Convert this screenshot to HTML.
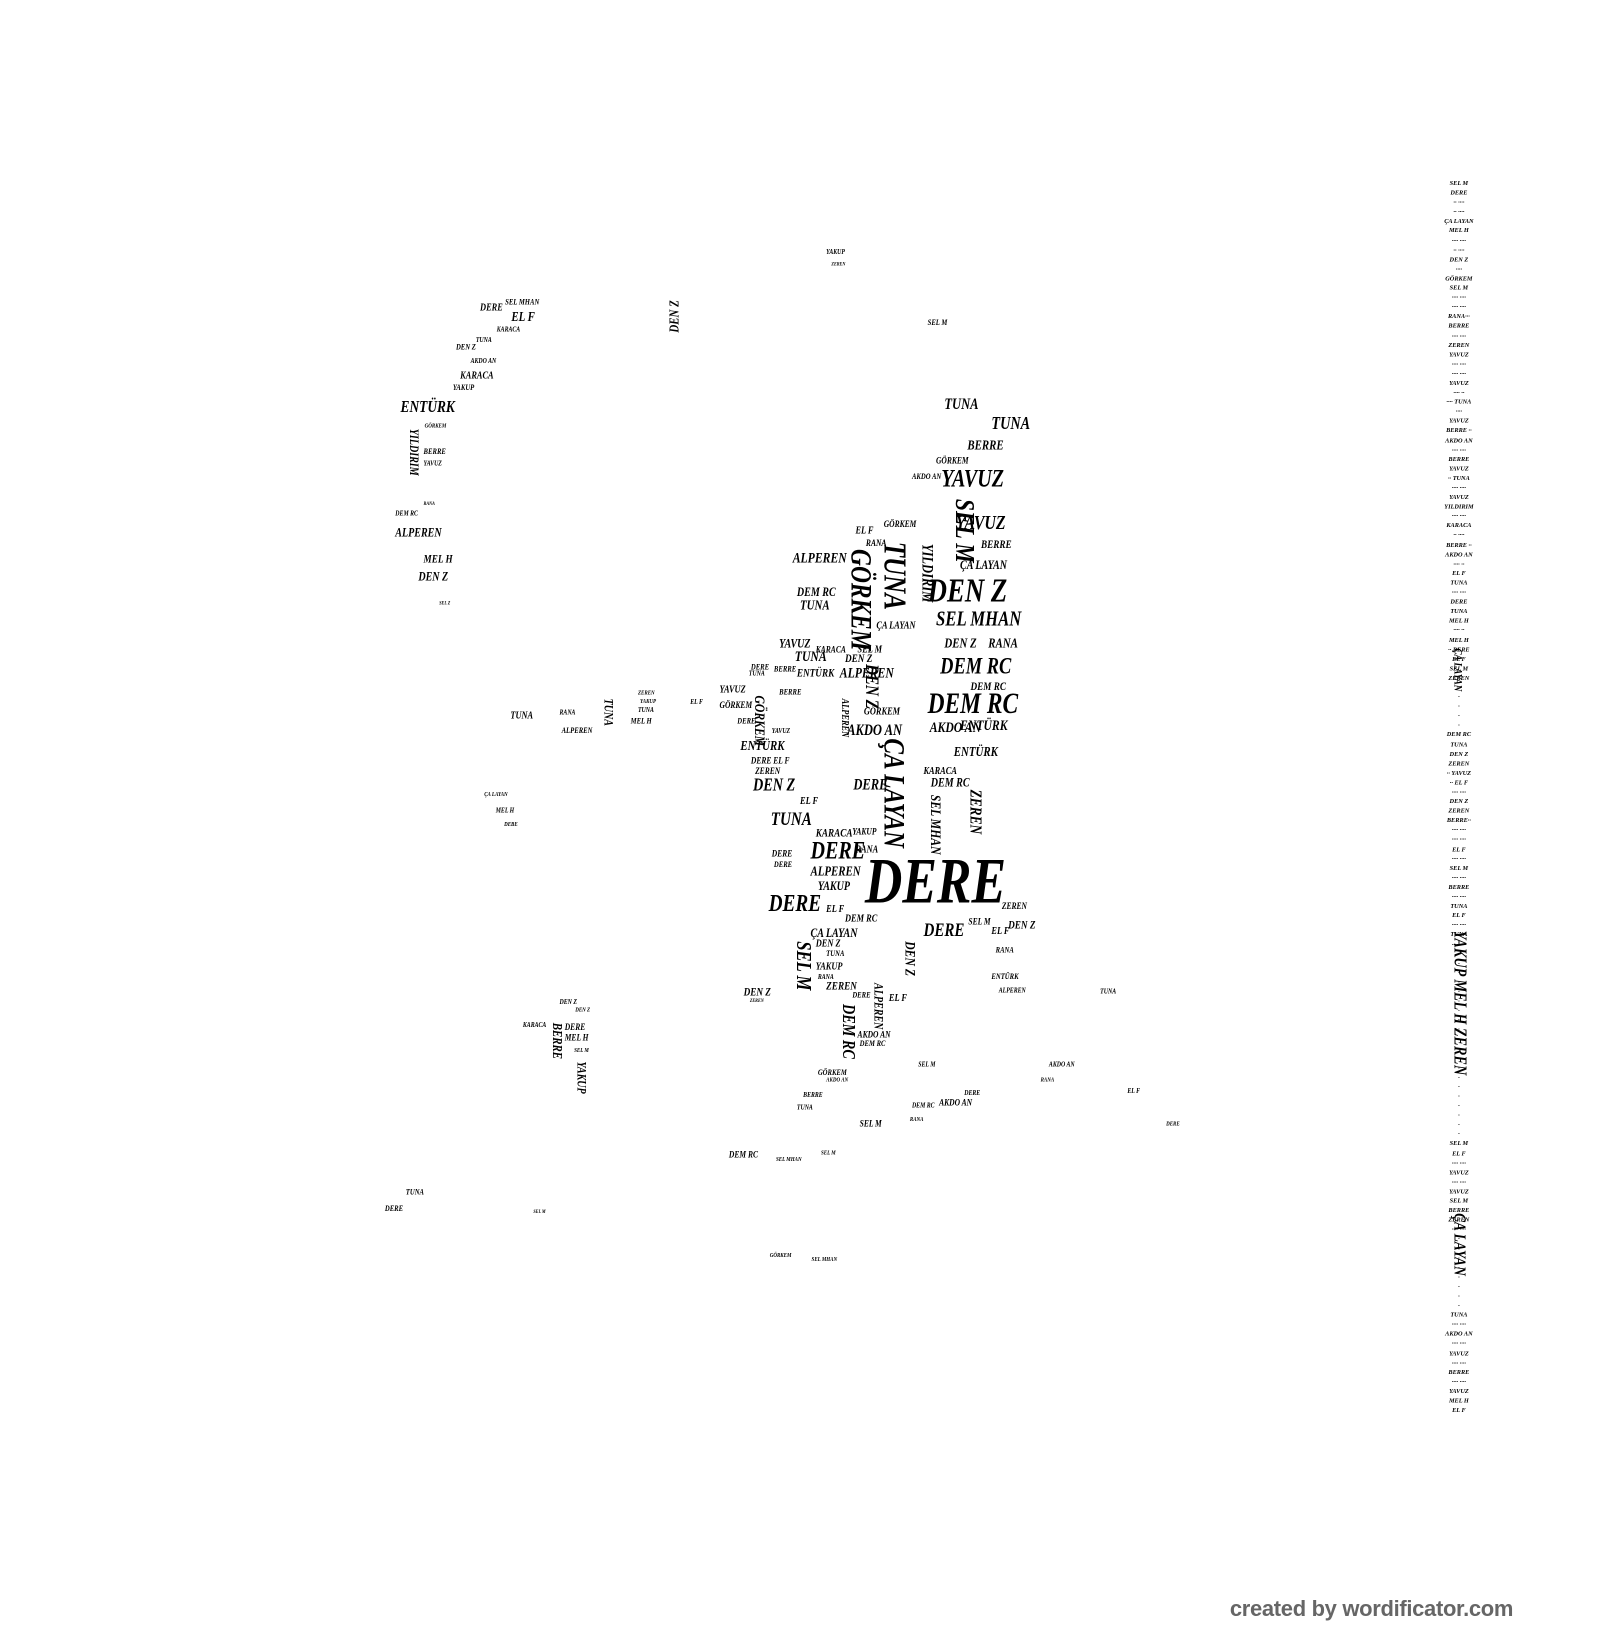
<!DOCTYPE html>
<html><head><meta charset="utf-8"><style>
html,body{margin:0;padding:0;background:#fff;width:1600px;height:1640px;overflow:hidden}
#s{position:absolute;left:0;top:0;width:1530px;height:1568px;transform:scale(1.0458);transform-origin:0 0}
#s span{position:absolute;white-space:nowrap;font-family:"Liberation Serif",serif;font-weight:bold;font-style:italic;line-height:1;color:#000;transform-origin:0 0;transform:scaleX(.8)}
#s span.v{transform:rotate(90deg) scaleX(.8)}
#s span.u{transform:rotate(-90deg) scaleX(.8)}
#col{position:absolute;left:1378px;top:172px;width:34px;font-family:"Liberation Serif",serif;font-weight:bold;font-style:italic;font-size:6px;line-height:9.1px;text-align:center;color:#000}
#wm{position:absolute;left:1176px;top:1527px;font-family:"Liberation Sans",sans-serif;font-weight:bold;font-size:21px;color:#666;letter-spacing:-.3px;transform-origin:0 0}
</style></head><body><div id="s">
<span style="left:827px;top:812px;font-size:62px">DERE</span>
<span style="left:887px;top:548px;font-size:32px">DEN Z</span>
<span style="left:887px;top:660px;font-size:28px">DEM RC</span>
<span style="left:899px;top:626px;font-size:22px">DEM RC</span>
<span style="left:895px;top:582px;font-size:20px">SEL MHAN</span>
<span style="left:900px;top:446px;font-size:24px">YAVUZ</span>
<span style="left:914px;top:491px;font-size:19px">YAVUZ</span>
<span style="left:903px;top:380px;font-size:15px">TUNA</span>
<span style="left:948px;top:396px;font-size:17px">TUNA</span>
<span style="left:925px;top:419px;font-size:13px">BERRE</span>
<span style="left:938px;top:516px;font-size:11px">BERRE</span>
<span style="left:918px;top:534px;font-size:12px">ÇA LAYAN</span>
<span style="left:895px;top:436px;font-size:9px">GÖRKEM</span>
<span style="left:872px;top:452px;font-size:8px">AKDO AN</span>
<span style="left:903px;top:608px;font-size:13px">DEN Z</span>
<span style="left:945px;top:608px;font-size:13px">RANA</span>
<span style="left:928px;top:652px;font-size:11px">DEM RC</span>
<span style="left:889px;top:690px;font-size:14px">AKDO AN</span>
<span style="left:918px;top:688px;font-size:14px">ENTÜRK</span>
<span style="left:912px;top:712px;font-size:13px">ENTÜRK</span>
<span style="left:890px;top:742px;font-size:12px">DEM RC</span>
<span style="left:883px;top:733px;font-size:10px">KARACA</span>
<span style="left:810px;top:692px;font-size:15px">AKDO AN</span>
<span style="left:826px;top:676px;font-size:10px">GÖRKEM</span>
<span style="left:808px;top:625px;font-size:11px">DEN Z</span>
<span style="left:803px;top:638px;font-size:14px">ALPEREN</span>
<span style="left:820px;top:617px;font-size:10px">SEL M</span>
<span style="left:760px;top:622px;font-size:14px">TUNA</span>
<span style="left:762px;top:639px;font-size:11px">ENTÜRK</span>
<span style="left:745px;top:609px;font-size:12px">YAVUZ</span>
<span style="left:780px;top:617px;font-size:9px">KARACA</span>
<span style="left:758px;top:528px;font-size:14px">ALPEREN</span>
<span style="left:762px;top:560px;font-size:12px">DEM RC</span>
<span style="left:765px;top:572px;font-size:13px">TUNA</span>
<span style="left:818px;top:503px;font-size:10px">EL F</span>
<span style="left:828px;top:515px;font-size:9px">RANA</span>
<span style="left:845px;top:497px;font-size:9px">GÖRKEM</span>
<span style="left:838px;top:594px;font-size:10px">ÇA LAYAN</span>
<span class="v" style="left:870px;top:518px;font-size:30px">TUNA</span>
<span class="v" style="left:836px;top:525px;font-size:28px">GÖRKEM</span>
<span class="v" style="left:893px;top:520px;font-size:15px">YILDIRIM</span>
<span class="v" style="left:935px;top:477px;font-size:26px">SEL M</span>
<span class="v" style="left:868px;top:706px;font-size:28px">ÇA LAYAN</span>
<span class="v" style="left:900px;top:760px;font-size:14px">SEL MHAN</span>
<span class="v" style="left:940px;top:755px;font-size:16px">ZEREN</span>
<span class="v" style="left:843px;top:635px;font-size:18px">DEN Z</span>
<span class="v" style="left:732px;top:665px;font-size:14px">GÖRKEM</span>
<span class="v" style="left:812px;top:668px;font-size:10px">ALPEREN</span>
<span style="left:708px;top:706px;font-size:13px">ENTÜRK</span>
<span style="left:718px;top:723px;font-size:9px">DERE EL F</span>
<span style="left:722px;top:733px;font-size:9px">ZEREN</span>
<span style="left:720px;top:742px;font-size:17px">DEN Z</span>
<span style="left:765px;top:762px;font-size:10px">EL F</span>
<span style="left:737px;top:774px;font-size:18px">TUNA</span>
<span style="left:780px;top:792px;font-size:11px">KARACA</span>
<span style="left:815px;top:791px;font-size:9px">YAKUP</span>
<span style="left:775px;top:802px;font-size:24px">DERE</span>
<span style="left:818px;top:808px;font-size:10px">RANA</span>
<span style="left:816px;top:744px;font-size:15px">DERE</span>
<span style="left:738px;top:812px;font-size:9px">DERE</span>
<span style="left:740px;top:823px;font-size:8px">DERE</span>
<span style="left:775px;top:826px;font-size:13px">ALPEREN</span>
<span style="left:782px;top:841px;font-size:12px">YAKUP</span>
<span style="left:735px;top:852px;font-size:23px">DERE</span>
<span style="left:790px;top:865px;font-size:10px">EL F</span>
<span style="left:808px;top:874px;font-size:10px">DEM RC</span>
<span style="left:775px;top:886px;font-size:12px">ÇA LAYAN</span>
<span style="left:780px;top:898px;font-size:10px">DEN Z</span>
<span style="left:790px;top:908px;font-size:8px">TUNA</span>
<span style="left:780px;top:920px;font-size:10px">YAKUP</span>
<span style="left:782px;top:931px;font-size:7px">RANA</span>
<span style="left:790px;top:938px;font-size:11px">ZEREN</span>
<span style="left:883px;top:880px;font-size:18px">DERE</span>
<span style="left:926px;top:877px;font-size:9px">SEL M</span>
<span style="left:964px;top:880px;font-size:11px">DEN Z</span>
<span style="left:958px;top:862px;font-size:9px">ZEREN</span>
<span style="left:948px;top:886px;font-size:10px">EL F</span>
<span style="left:952px;top:905px;font-size:8px">RANA</span>
<span style="left:948px;top:930px;font-size:8px">ENTÜRK</span>
<span style="left:955px;top:944px;font-size:7px">ALPEREN</span>
<span class="v" style="left:778px;top:900px;font-size:20px">SEL M</span>
<span class="v" style="left:876px;top:900px;font-size:14px">DEN Z</span>
<span class="v" style="left:846px;top:940px;font-size:12px">ALPEREN</span>
<span class="v" style="left:820px;top:960px;font-size:17px">DEM RC</span>
<span style="left:850px;top:950px;font-size:10px">EL F</span>
<span style="left:820px;top:985px;font-size:9px">AKDO AN</span>
<span style="left:822px;top:994px;font-size:8px">DEM RC</span>
<span style="left:815px;top:948px;font-size:8px">DERE</span>
<span style="left:782px;top:1022px;font-size:8px">GÖRKEM</span>
<span style="left:790px;top:1030px;font-size:6px">AKDO AN</span>
<span style="left:768px;top:1044px;font-size:7px">BERRE</span>
<span style="left:762px;top:1056px;font-size:7px">TUNA</span>
<span style="left:711px;top:944px;font-size:11px">DEN Z</span>
<span style="left:717px;top:955px;font-size:5px">ZEREN</span>
<span style="left:688px;top:655px;font-size:10px">YAVUZ</span>
<span style="left:688px;top:670px;font-size:9px">GÖRKEM</span>
<span style="left:718px;top:634px;font-size:8px">DERE</span>
<span style="left:716px;top:641px;font-size:7px">TUNA</span>
<span style="left:740px;top:636px;font-size:8px">BERRE</span>
<span style="left:745px;top:658px;font-size:8px">BERRE</span>
<span style="left:705px;top:686px;font-size:8px">DERE</span>
<span style="left:738px;top:696px;font-size:7px">YAVUZ</span>
<span style="left:459px;top:290px;font-size:10px">DERE</span>
<span style="left:483px;top:285px;font-size:8px">SEL MHAN</span>
<span style="left:489px;top:296px;font-size:13px">EL F</span>
<span style="left:475px;top:312px;font-size:7px">KARACA</span>
<span style="left:436px;top:328px;font-size:8px">DEN Z</span>
<span style="left:455px;top:322px;font-size:7px">TUNA</span>
<span style="left:450px;top:342px;font-size:7px">AKDO AN</span>
<span style="left:440px;top:355px;font-size:10px">KARACA</span>
<span style="left:433px;top:367px;font-size:8px">YAKUP</span>
<span style="left:383px;top:382px;font-size:16px">ENTÜRK</span>
<span style="left:406px;top:405px;font-size:6px">GÖRKEM</span>
<span style="left:405px;top:428px;font-size:8px">BERRE</span>
<span style="left:405px;top:440px;font-size:7px">YAVUZ</span>
<span class="v" style="left:402px;top:410px;font-size:12px">YILDIRIM</span>
<span style="left:378px;top:488px;font-size:7px">DEM RC</span>
<span style="left:405px;top:480px;font-size:5px">RANA</span>
<span style="left:378px;top:503px;font-size:12px">ALPEREN</span>
<span style="left:405px;top:530px;font-size:11px">MEL H</span>
<span style="left:400px;top:545px;font-size:12px">DEN Z</span>
<span style="left:420px;top:575px;font-size:5px">SEL Z</span>
<span class="u" style="left:638px;top:318px;font-size:13px">DEN Z</span>
<span style="left:790px;top:238px;font-size:7px">YAKUP</span>
<span style="left:795px;top:251px;font-size:5px">ZEREN</span>
<span style="left:887px;top:305px;font-size:8px">SEL M</span>
<span style="left:488px;top:680px;font-size:10px">TUNA</span>
<span style="left:535px;top:678px;font-size:7px">RANA</span>
<span style="left:537px;top:695px;font-size:8px">ALPEREN</span>
<span style="left:603px;top:686px;font-size:8px">MEL H</span>
<span style="left:610px;top:676px;font-size:7px">TUNA</span>
<span style="left:612px;top:668px;font-size:6px">YAKUP</span>
<span style="left:610px;top:660px;font-size:6px">ZEREN</span>
<span style="left:660px;top:668px;font-size:7px">EL F</span>
<span class="v" style="left:588px;top:668px;font-size:12px">TUNA</span>
<span style="left:463px;top:757px;font-size:6px">ÇA LAYAN</span>
<span style="left:474px;top:772px;font-size:7px">MEL H</span>
<span style="left:482px;top:786px;font-size:6px">DEBE</span>
<span style="left:535px;top:955px;font-size:7px">DEN Z</span>
<span style="left:550px;top:963px;font-size:6px">DEN Z</span>
<span style="left:500px;top:977px;font-size:7px">KARACA</span>
<span style="left:540px;top:978px;font-size:9px">DERE</span>
<span style="left:540px;top:988px;font-size:9px">MEL H</span>
<span class="v" style="left:540px;top:978px;font-size:13px">BERRE</span>
<span class="v" style="left:562px;top:1015px;font-size:12px">YAKUP</span>
<span style="left:549px;top:1002px;font-size:6px">SEL M</span>
<span style="left:1052px;top:945px;font-size:7px">TUNA</span>
<span style="left:1003px;top:1015px;font-size:7px">AKDO AN</span>
<span style="left:995px;top:1030px;font-size:6px">RANA</span>
<span style="left:1078px;top:1040px;font-size:7px">EL F</span>
<span style="left:878px;top:1015px;font-size:7px">SEL M</span>
<span style="left:898px;top:1050px;font-size:9px">AKDO AN</span>
<span style="left:922px;top:1042px;font-size:7px">DERE</span>
<span style="left:872px;top:1054px;font-size:7px">DEM RC</span>
<span style="left:822px;top:1070px;font-size:9px">SEL M</span>
<span style="left:870px;top:1068px;font-size:6px">RANA</span>
<span style="left:697px;top:1100px;font-size:9px">DEM RC</span>
<span style="left:742px;top:1106px;font-size:6px">SEL MHAN</span>
<span style="left:785px;top:1100px;font-size:6px">SEL M</span>
<span style="left:388px;top:1136px;font-size:8px">TUNA</span>
<span style="left:368px;top:1152px;font-size:8px">DERE</span>
<span style="left:510px;top:1157px;font-size:5px">SEL M</span>
<span style="left:736px;top:1198px;font-size:6px">GÖRKEM</span>
<span style="left:776px;top:1202px;font-size:6px">SEL MHAN</span>
<span style="left:1115px;top:1072px;font-size:6px">DERE</span>
<span class="v" style="left:1405px;top:890px;font-size:17px">YAKUP MEL H ZEREN</span>
<span class="v" style="left:1403px;top:1160px;font-size:16px">ÇA LAYAN</span>
<span class="v" style="left:1399px;top:620px;font-size:11px">ÇA LAYAN</span>
<div id="col">SEL M<br>DERE<br>·· ····<br>·· ····<br>ÇA LAYAN<br>MEL H<br>···· ····<br>·· ····<br>DEN Z<br>····<br>GÖRKEM<br>SEL M<br>···· ····<br>···· ····<br>RANA···<br>BERRE<br>···· ····<br>ZEREN<br>YAVUZ<br>···· ····<br>···· ····<br>YAVUZ<br>···· ··<br>···· TUNA<br>····<br>YAVUZ<br>BERRE ··<br>AKDO AN<br>···· ····<br>BERRE<br>YAVUZ<br>·· TUNA<br>···· ····<br>YAVUZ<br>YILDIRIM<br>···· ····<br>KARACA<br>·· ····<br>BERRE ··<br>AKDO AN<br>···· ··<br>EL F<br>TUNA<br>···· ····<br>DERE<br>TUNA<br>MEL H<br>···· ··<br>MEL H<br>·· BERE<br>EL F<br>SEL M<br>ZEREN<br>···<br>·<br>·<br>·<br>·<br>DEM RC<br>TUNA<br>DEN Z<br>ZEREN<br>·· YAVUZ<br>·· EL F<br>···· ····<br>DEN Z<br>ZEREN<br>BERRE··<br>···· ····<br>···· ····<br>EL F<br>···· ····<br>SEL M<br>···· ····<br>BERRE<br>···· ····<br>TUNA<br>EL F<br>···· ····<br>TUNA<br>···· ····<br>·<br>·<br>·<br>·<br>·<br>·<br>·<br>·<br>·<br>·<br>·<br>·<br>·<br>·<br>·<br>·<br>·<br>·<br>·<br>·<br>SEL M<br>EL F<br>···· ····<br>YAVUZ<br>···· ····<br>YAVUZ<br>SEL M<br>BERRE<br>ZEREN<br>···· ····<br>·<br>·<br>·<br>·<br>·<br>·<br>·<br>·<br>TUNA<br>···· ····<br>AKDO AN<br>···· ····<br>YAVUZ<br>···· ····<br>BERRE<br>···· ····<br>YAVUZ<br>MEL H<br>EL F</div>
<div id="wm">created by wordificator.com</div>
</div></body></html>
